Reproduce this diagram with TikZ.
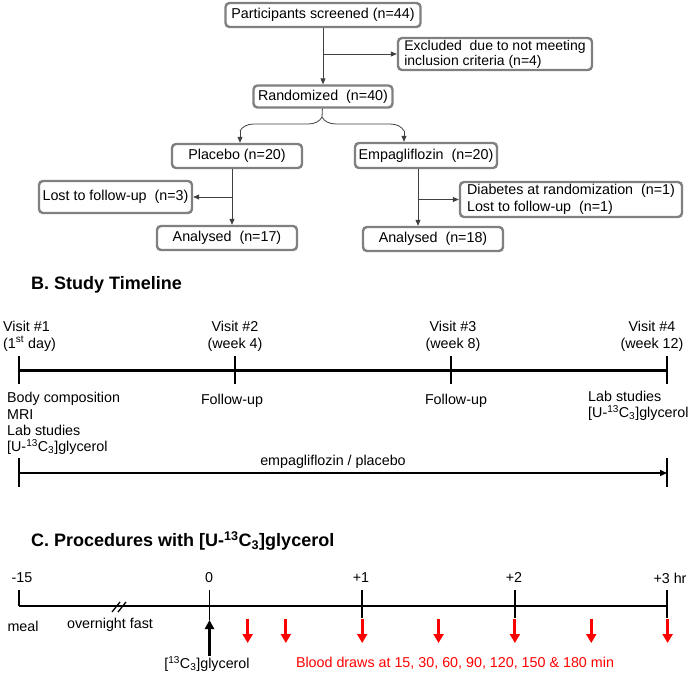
\documentclass[tikz,border=0pt]{standalone}
\usepackage{fontspec}
\setmainfont{Liberation Sans}
\usetikzlibrary{positioning,calc,arrows.meta,decorations.pathreplacing}
\definecolor{boxgray}{RGB}{128,128,128}
\definecolor{linegray}{RGB}{64,64,64}
\newcommand{\ucglyc}{[U-\textsuperscript{13}C\textsubscript{3}]glycerol}

\begin{document}
\begin{tikzpicture}[x=1pt,y=1pt]
    \tikzstyle{every node}=[inner sep=0,font=\fontsize{14.3}{17}\selectfont]
    \tikzstyle{box}=[draw=boxgray,line width=2.4,rounded corners=4,minimum height=24]
    \tikzstyle{note}=[align=center]
    \tikzstyle{heading}=[anchor=west,font=\fontsize{18}{20}\selectfont\bfseries]
    \tikzstyle{flow}=[draw=linegray,line width=0.8,-{Triangle[length=6,width=5]}]
    \tikzstyle{vtick}=[line width=1.5]
    \tikzstyle{blood}=[red,line width=3,-{Triangle[length=9,width=10]}]
    \useasboundingbox (0,0) rectangle (688,-674);

    % A. flow of participants
    {
        \node[box,minimum width=195] (screened) at (323,-15) {Participants screened (n=44)};
        \node[box,minimum width=194,minimum height=32,align=left,font=\fontsize{14}{15}\selectfont] (excluded) at (495,-54) {Excluded\ \ due to not meeting\\inclusion criteria (n=4)};
        \node[box,minimum width=139,minimum height=22] (randomized) at (323,-96.5) {Randomized\ \ (n=40)};
        \node[box,minimum width=130] (placebo) at (237,-156) {Placebo (n=20)};
        \node[box,minimum width=142,minimum height=25] (empa) at (426,-155.5) {Empagliflozin\ \ (n=20)};
        \node[box,minimum width=153,minimum height=32] (lost) at (115.5,-197) {Lost to follow-up\ \ (n=3)};
        \node[box,minimum width=222,minimum height=35,align=left] (diabetes) at (571,-199.5) {Diabetes at randomization\ \ (n=1)\\Lost to follow-up\ \ (n=1)};
        \node[box,minimum width=140] (anaplac) at (227,-238) {Analysed\ \ (n=17)};
        \node[box,minimum width=140] (anaempa) at (433,-239) {Analysed\ \ (n=18)};

        \coordinate (j1) at (323,-54);
        \coordinate (bl) at (240,-131);
        \coordinate (br) at (404,-131);
        \coordinate (bt) at (322,-117);
        \coordinate (jp) at (232,-197);
        \coordinate (je) at (418,-199.5);

        \draw[draw=linegray,line width=0.8] (randomized) -- (bt);
        \draw[draw=linegray,line width=0.8,decorate,decoration={brace,amplitude=14}] (bl) -- (br);

        \path
            (screened) edge[flow] (randomized)
            (j1) edge[flow] (excluded)
            (bl) edge[flow] (placebo.north -| bl)
            (br) edge[flow] (empa.north -| br)
            (jp) edge[flow] (lost)
            (je) edge[flow] (diabetes)
            (placebo.south -| jp) edge[flow] (anaplac.north -| jp)
            (empa.south -| je) edge[flow] (anaempa.north -| je);
    }

    % B. study timeline
    {
        \node[heading] (titleb) at (31,-285) {B. Study Timeline};

        \coordinate (v1) at (19,-370);
        \coordinate (v2) at (235,-370);
        \coordinate (v3) at (451,-370);
        \coordinate (v4) at (667,-370);
        \draw[line width=3] (v1) -- (v4);
        \foreach \v in {v1,v2,v3,v4}
            \draw[vtick] ([yshift=14]\v) -- ([yshift=-14]\v);

        \node[note,align=left,anchor=west] (visit1) at (3,-336) {Visit \#1\\(1\textsuperscript{st} day)};
        \node[note] (visit2) at (235,-336) {Visit \#2\\(week 4)};
        \node[note] (visit3) at (453,-336) {Visit \#3\\(week 8)};
        \node[note] (visit4) at (652,-336) {Visit \#4\\(week 12)};

        \node[note,align=left,anchor=west,font=\fontsize{14.3}{16.3}\selectfont] (tasks1) at (7,-423.5) {Body composition\\MRI\\Lab studies\\\ucglyc};
        \node[note] (tasks2) at (232,-401) {Follow-up};
        \node[note] (tasks3) at (456,-401) {Follow-up};
        \node[note,align=left,anchor=west,font=\fontsize{14.3}{16}\selectfont] (tasks4) at (588,-406) {Lab studies\\\ucglyc};

        \node[note] (drug) at (333,-462) {empagliflozin / placebo};
        \coordinate (d1) at (19,-473);
        \coordinate (d4) at (667,-473);
        \draw[line width=1.5,-{Triangle[length=7,width=6]}] (d1) -- (d4);
        \foreach \d in {d1,d4}
            \draw[vtick] ([yshift=15]\d) -- ([yshift=-14]\d);
    }

    % C. glycerol procedure
    {
        \node[heading] (titlec) at (31,-541) {C. Procedures with \ucglyc};

        \coordinate (c15) at (19,-606);
        \coordinate (c0) at (209.5,-606);
        \coordinate (c1) at (362,-606);
        \coordinate (c2) at (515,-606);
        \coordinate (c3) at (667,-606);
        \draw[line width=1.3] (c15) -- (c3);
        \draw[line width=1.3] (112,-612) -- (120,-602) (118,-612) -- (126,-602);

        \draw[vtick] ([yshift=16]c15) -- (c15);
        \draw[vtick] ([yshift=16]c0) -- ([yshift=-14]c0);
        \foreach \c in {c1,c2,c3}
            \draw[vtick] ([yshift=16]\c) -- ([yshift=-12]\c);

        \node (l15) at (22,-578) {-15};
        \node (l0) at (209,-578) {0};
        \node (l1) at (361,-578) {+1};
        \node (l2) at (514,-578) {+2};
        \node (l3) at (670,-578) {+3 hr};
        \node (meal) at (23,-626) {meal};
        \node (fast) at (110,-625) {overnight fast};

        \coordinate (g0) at (209.5,-656);
        \draw[line width=3,-{Triangle[length=9,width=9]}] (g0) -- ([yshift=-14]c0);
        \node (glyc) at (207,-664) {[\textsuperscript{13}C\textsubscript{3}]glycerol};

        \foreach \m in {15,30,60,90,120,150,180}
            \draw[blood] ($(c0)+(\m/60*152.7,-13)$) -- ++(0,-24);
        \node[red] (draws) at (455,-663) {Blood draws at 15, 30, 60, 90, 120, 150 \& 180 min};
    }
\end{tikzpicture}
\end{document}
